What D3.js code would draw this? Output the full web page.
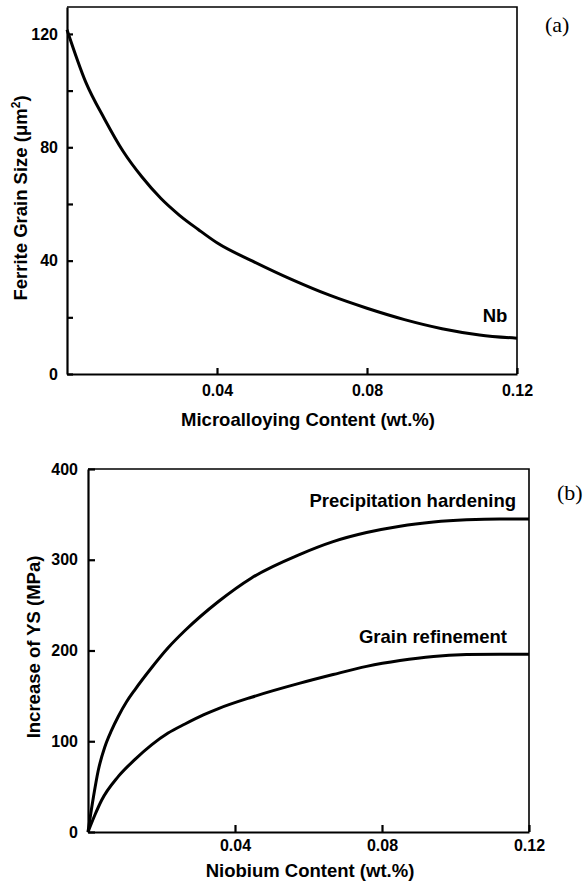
<!DOCTYPE html>
<html>
<head>
<meta charset="utf-8">
<script src="https://cdn.jsdelivr.net/npm/d3@7"></script>
<style>
  body { margin: 0; background: #fff; }
  svg { display: block; }
  .title { font-family: "Liberation Sans", Arial, sans-serif; font-weight: bold; font-size: 18.5px; fill: #000; }
  .panel { font-family: "Liberation Serif", "Times New Roman", serif; font-size: 22px; fill: #000; }
  .curve { fill: none; stroke: #000; stroke-width: 3; }
</style>
</head>
<body>
<svg id="chart" width="585" height="882"></svg>
<script>
// panel (a): ferrite grain size vs microalloying content
const alloyContent = [0, 0.005, 0.01, 0.015, 0.02, 0.025, 0.03, 0.035, 0.04, 0.05, 0.06, 0.07, 0.08, 0.09, 0.10, 0.11, 0.12];
const grainSize = [121.5, 103, 90, 78.5, 69.5, 62, 56, 51, 46.3, 39.5, 33.3, 27.8, 23.2, 19.2, 16, 13.8, 12.6];
const grainYTicks = [0, 20, 40, 60, 80, 100, 120];
const grainYLabels = [0, 40, 80, 120];
const contentTicks = [0.04, 0.08, 0.12];

// panel (b): increase of YS vs niobium content
const precipX = [0, 0.0015, 0.0028, 0.0046, 0.0064, 0.0082, 0.0105, 0.0128, 0.0173, 0.0218, 0.0264, 0.0355, 0.0445, 0.0577, 0.0667, 0.0758, 0.0849, 0.094, 0.103, 0.112, 0.12];
const precipHardening = [0, 39, 68, 94, 112, 127, 143.5, 157, 181, 203, 222, 254, 280, 306, 320, 330, 337, 341.5, 344, 345, 345];
const refineX = [0, 0.0019, 0.0037, 0.0082, 0.0128, 0.0173, 0.0218, 0.0264, 0.0314, 0.0355, 0.0445, 0.0577, 0.0667, 0.0758, 0.0849, 0.094, 0.103, 0.112, 0.12];
const grainRefinement = [0, 19, 35, 61, 80, 96, 109, 119, 129, 136, 148.5, 164, 173.5, 182.5, 189, 193.5, 195.5, 196, 196];
const ysTicks = [0, 100, 200, 300, 400];

const svg = d3.select("#chart");

function frame(g, x, y) {
    const [x0, x1] = x.range();
    const [y0, y1] = y.range();
    g.append("path")
        .attr("d", `M${x0},${y1} L${x1},${y1} L${x1},${y0}`)
        .attr("fill", "none")
        .attr("stroke", "#000")
        .attr("stroke-width", 1.6);
}

function styleAxis(g) {
    g.attr("font-family", "'Liberation Sans', Arial, sans-serif")
        .attr("font-size", 16)
        .attr("font-weight", "bold");
    g.select(".domain").attr("stroke-width", 2.2);
    g.selectAll(".tick line").attr("stroke-width", 2.2);
    g.selectAll(".tick text").attr("fill", "#000").attr("font-weight", "bold");
}

// ---------- (a)
{
    const x = d3.scaleLinear().domain([0, 0.12]).range([67, 517]);
    const y = d3.scaleLinear().domain([0, 129.5]).range([374, 7]);
    const g = svg.append("g");

    frame(g, x, y);

    g.append("g")
        .attr("transform", "translate(0,374)")
        .call(d3.axisBottom(x).tickValues(contentTicks).tickSizeInner(-6).tickSizeOuter(0).tickPadding(11).tickFormat(d3.format(".2f")))
        .call(styleAxis);

    g.append("g")
        .attr("transform", "translate(67,0)")
        .call(d3.axisLeft(y).tickValues(grainYTicks).tickSizeInner(-6).tickSizeOuter(0).tickPadding(9)
            .tickFormat(d => grainYLabels.includes(d) ? d : ""))
        .call(styleAxis);

    const line = d3.line().x((d, i) => x(alloyContent[i])).y(d => y(d)).curve(d3.curveMonotoneX);
    g.append("path").attr("class", "curve").attr("d", line(grainSize));

    g.append("text").attr("class", "title").attr("x", 495).attr("y", 322).attr("text-anchor", "middle").text("Nb");
    g.append("text").attr("class", "title").attr("x", 308).attr("y", 426).attr("text-anchor", "middle").text("Microalloying Content (wt.%)");
    g.append("text").attr("class", "title")
        .attr("transform", "translate(27,198) rotate(-90)")
        .attr("text-anchor", "middle")
        .html("Ferrite Grain Size (μm<tspan dy='-7' font-size='12'>2</tspan><tspan dy='7'>)</tspan>");
    g.append("text").attr("class", "panel").attr("x", 545).attr("y", 32).text("(a)");
}

// ---------- (b)
{
    const x = d3.scaleLinear().domain([0, 0.12]).range([88, 529]);
    const y = d3.scaleLinear().domain([0, 400]).range([832, 469]);
    const g = svg.append("g");

    frame(g, x, y);

    g.append("g")
        .attr("transform", "translate(0,832)")
        .call(d3.axisBottom(x).tickValues(contentTicks).tickSizeInner(-7).tickSizeOuter(0).tickPadding(8).tickFormat(d3.format(".2f")))
        .call(styleAxis);

    g.append("g")
        .attr("transform", "translate(88,0)")
        .call(d3.axisLeft(y).tickValues(ysTicks).tickSizeInner(-7).tickSizeOuter(0).tickPadding(10))
        .call(styleAxis);

    const curve = xs => d3.line().x((d, i) => x(xs[i])).y(d => y(d)).curve(d3.curveMonotoneX);
    g.append("path").attr("class", "curve").attr("d", curve(precipX)(precipHardening));
    g.append("path").attr("class", "curve").attr("d", curve(refineX)(grainRefinement));

    g.append("text").attr("class", "title").attr("x", 516).attr("y", 507).attr("text-anchor", "end").text("Precipitation hardening");
    g.append("text").attr("class", "title").attr("x", 507).attr("y", 643).attr("text-anchor", "end").text("Grain refinement");
    g.append("text").attr("class", "title").attr("x", 310).attr("y", 877).attr("text-anchor", "middle").text("Niobium Content (wt.%)");
    g.append("text").attr("class", "title")
        .attr("transform", "translate(40,647) rotate(-90)")
        .attr("text-anchor", "middle")
        .text("Increase of YS (MPa)");
    g.append("text").attr("class", "panel").attr("x", 557).attr("y", 500).text("(b)");
}
</script>
</body>
</html>
